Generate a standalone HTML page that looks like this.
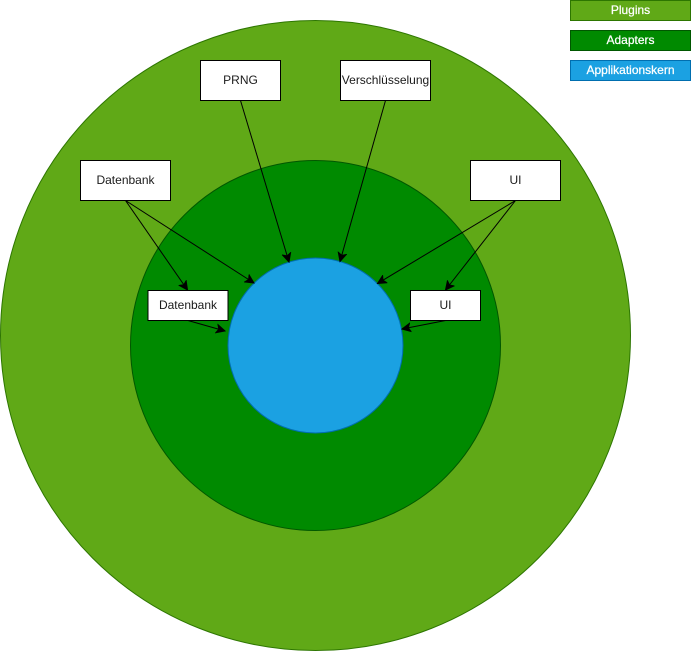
<!DOCTYPE html>
<html lang="de">
<head>
<meta charset="utf-8">
<title>Clean Architecture Diagramm</title>
<style>
html,body{margin:0;padding:0;background:#fff;width:691px;height:651px;overflow:hidden}
svg{display:block}
text{font-family:"Liberation Sans",Arial,sans-serif;font-size:12px;text-anchor:middle}
.box{fill:#fff;stroke:#000;stroke-width:1}
.lbl{fill:#1a1a1a}
.leg{fill:#fff;stroke:#fff;stroke-width:.25}
.arrow{stroke:#000;stroke-width:1;fill:none;marker-end:url(#arrowhead)}
</style>
</head>
<body>
<svg width="691" height="651" viewBox="0 0 691 651" xmlns="http://www.w3.org/2000/svg">
<defs>
<marker id="arrowhead" markerUnits="userSpaceOnUse" markerWidth="10" markerHeight="10" refX="9" refY="5" orient="auto" viewBox="0 0 10 10">
<path d="M0.5 0.8L9 5L0.5 9.2L2.6 5Z" fill="#000" stroke="#000" stroke-width="1"/>
</marker>
</defs>

<circle cx="315.5" cy="335.5" r="315" fill="#60a917" stroke="#2d7600"/>
<circle cx="315.5" cy="345.5" r="185" fill="#008a00" stroke="#005700"/>
<circle cx="315.5" cy="345.5" r="87.5" fill="#1ba1e2" stroke="#006eaf"/>

<g>
<rect class="box" x="200.5" y="60.5" width="80" height="40"/>
<text class="lbl" x="240.5" y="84">PRNG</text>
</g>
<g>
<rect class="box" x="340.5" y="60.5" width="90" height="40"/>
<text class="lbl" x="385.5" y="84">Verschlüsselung</text>
</g>
<g>
<rect class="box" x="80.5" y="160.5" width="90" height="40"/>
<text class="lbl" x="125.5" y="184">Datenbank</text>
</g>
<g>
<rect class="box" x="470.5" y="160.5" width="90" height="40"/>
<text class="lbl" x="515.5" y="184">UI</text>
</g>
<g>
<rect class="box" x="148" y="290.5" width="80" height="30"/>
<text class="lbl" x="188" y="309">Datenbank</text>
</g>
<g>
<rect class="box" x="410.5" y="290.5" width="70" height="30"/>
<text class="lbl" x="445.5" y="309">UI</text>
</g>

<line class="arrow" x1="125.5" y1="200.5" x2="187.5" y2="290"/>
<line class="arrow" x1="125.5" y1="200.5" x2="254" y2="283"/>
<line class="arrow" x1="188" y1="320.5" x2="225" y2="331"/>
<line class="arrow" x1="515.5" y1="200.5" x2="445.5" y2="290"/>
<line class="arrow" x1="515.5" y1="200.5" x2="377.5" y2="283.5"/>
<line class="arrow" x1="445.5" y1="320.5" x2="402" y2="329"/>
<line class="arrow" x1="240.5" y1="100.5" x2="289" y2="262"/>
<line class="arrow" x1="385.5" y1="100.5" x2="340" y2="261.5"/>

<g>
<rect x="570.5" y="0.5" width="120" height="20" fill="#60a917" stroke="#2d7600"/>
<text class="leg" x="630.5" y="14">Plugins</text>
</g>
<g>
<rect x="570.5" y="30.5" width="120" height="20" fill="#008a00" stroke="#005700"/>
<text class="leg" x="630.5" y="44">Adapters</text>
</g>
<g>
<rect x="570.5" y="60.5" width="120" height="20" fill="#1ba1e2" stroke="#006eaf"/>
<text class="leg" x="630.5" y="74">Applikationskern</text>
</g>
</svg>
</body>
</html>
